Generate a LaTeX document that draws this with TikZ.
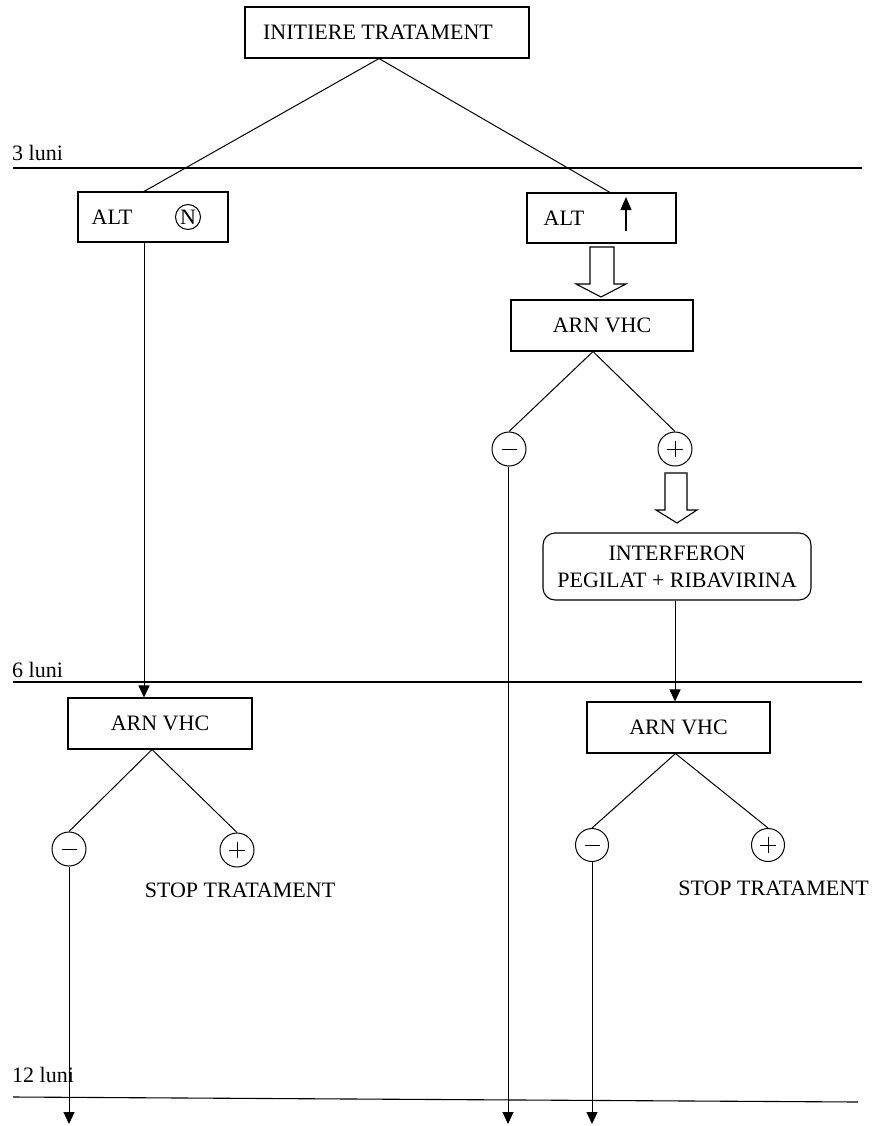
\documentclass[tikz,border=0pt]{standalone}
\usepackage{fontspec}
\setmainfont{Liberation Serif}
\usetikzlibrary{arrows.meta,calc}
\begin{document}
\begin{tikzpicture}[x=1pt,y=-1pt,
  every node/.style={font=\fontsize{22}{27}\selectfont},
  box/.style={draw,line width=1.1pt,inner sep=0pt},
  sign/.style={draw,circle,line width=1pt,minimum size=34pt,inner sep=0pt},
  conn/.style={line width=1pt},
  arr/.style={line width=1pt,-{Triangle[length=12pt,width=11pt]}},
  timeline/.style={line width=1.1pt},
  blk/.style={draw,line width=1.1pt,fill=white,line join=miter},
  signline/.style={line width=1pt}]
\useasboundingbox (0,0) rectangle (874,1126);

% time lines
\draw[timeline] (13,168) -- (862,168);
\draw[timeline] (13,682) -- (862,682);
\draw[timeline] (13,1097) -- (858,1102);
\node[anchor=west,inner sep=0pt] (t3) at (12,153) {3 luni};
\node[anchor=west,inner sep=0pt] (t6) at (12,670) {6 luni};
\node[anchor=west,inner sep=0pt] (t12) at (12,1075) {12 luni};

% top
\node[box,minimum width=284pt,minimum height=51pt] (top) at (387,32.5) {};
\node (toptxt) at (378,32) {INITIERE TRATAMENT};

% ALT boxes
\node[box,minimum width=150pt,minimum height=50pt] (altL) at (153,217) {};
\node (altLtxt) at (112,217) {ALT};
\node[draw,circle,line width=1pt,minimum size=25pt,inner sep=0pt] (nL) at (188,217) {N};

\node[box,minimum width=149pt,minimum height=50pt] (altR) at (601.5,218) {};
\node (altRtxt) at (564,218) {ALT};
\coordinate (upA) at (626,231);
\coordinate (upB) at (626,197);
\draw[line width=1.1pt,-{Triangle[length=13pt,width=11pt]}] (upA) -- (upB);

\draw[conn] ([xshift=-8pt]top.south) -- ([xshift=-9pt]altL.north);
\draw[conn] ([xshift=-8pt]top.south) -- ([xshift=8.5pt]altR.north);

% right branch at 3 months
\node[box,minimum width=182pt,minimum height=51pt] (arnR1) at (602,325.5) {ARN VHC};
\draw[blk] (590,247) -- (614,247) -- (614,284) -- (626,284) -- (601,297) -- (576,284) -- (590,284) -- cycle;

\node[sign] (mR1) at (509,449) {};
\node[sign] (pR1) at (675,449) {};
\draw[conn] ([xshift=-9pt]arnR1.south) -- (mR1.north);
\draw[conn] ([xshift=-9pt]arnR1.south) -- (pR1.north);

\draw[blk] (665,473) -- (687,473) -- (687,510) -- (697,510) -- (677,523) -- (656,510) -- (665,510) -- cycle;

\node[box,rounded corners=12pt,minimum width=268pt,minimum height=67pt,align=center] (ifn) at (677,566.5) {INTERFERON\\PEGILAT + RIBAVIRINA};

\node[box,minimum width=183pt,minimum height=51pt] (arnR2) at (678.5,727.5) {ARN VHC};
\draw[arr] ([xshift=-2pt]ifn.south) -- ([xshift=-3.5pt]arnR2.north);

\node[sign,minimum size=33pt] (mR2) at (592,845) {};
\node[sign,minimum size=33pt] (pR2) at (768,845) {};
\draw[conn] ([xshift=-3pt]arnR2.south) -- (mR2.north);
\draw[conn] ([xshift=-3pt]arnR2.south) -- (pR2.north);
\node (stopR) at (773.5,888) {STOP TRATAMENT};

% left branch
\node[box,minimum width=184pt,minimum height=51pt] (arnL) at (160,723.5) {ARN VHC};
\draw[arr] ([xshift=-9pt]altL.south) -- ([xshift=-16pt]arnL.north);

\node[sign] (mL) at (69,849) {};
\node[sign] (pL) at (237,850) {};
\draw[conn] ([xshift=-8pt]arnL.south) -- (mL.north);
\draw[conn] ([xshift=-8pt]arnL.south) -- (pL.north);
\node (stopL) at (240,890) {STOP TRATAMENT};

% signs inside circles
\foreach \c in {mR1,mR2,mL}{
  \draw[signline] ([xshift=-7.5pt]\c.center) -- ([xshift=7.5pt]\c.center);
}
\foreach \c in {pR1,pR2,pL}{
  \draw[signline] ([xshift=-8pt]\c.center) -- ([xshift=8pt]\c.center);
  \draw[signline] ([yshift=-8pt]\c.center) -- ([yshift=8pt]\c.center);
}

% long arrows to 12 months
\coordinate (eL) at (69,1124);
\coordinate (eR1) at (508,1124);
\coordinate (eR2) at (592,1124);
\draw[arr] (mL.south) -- (eL);
\draw[arr] ([xshift=-1pt]mR1.south) -- (eR1);
\draw[arr] (mR2.south) -- (eR2);
\end{tikzpicture}
\end{document}
